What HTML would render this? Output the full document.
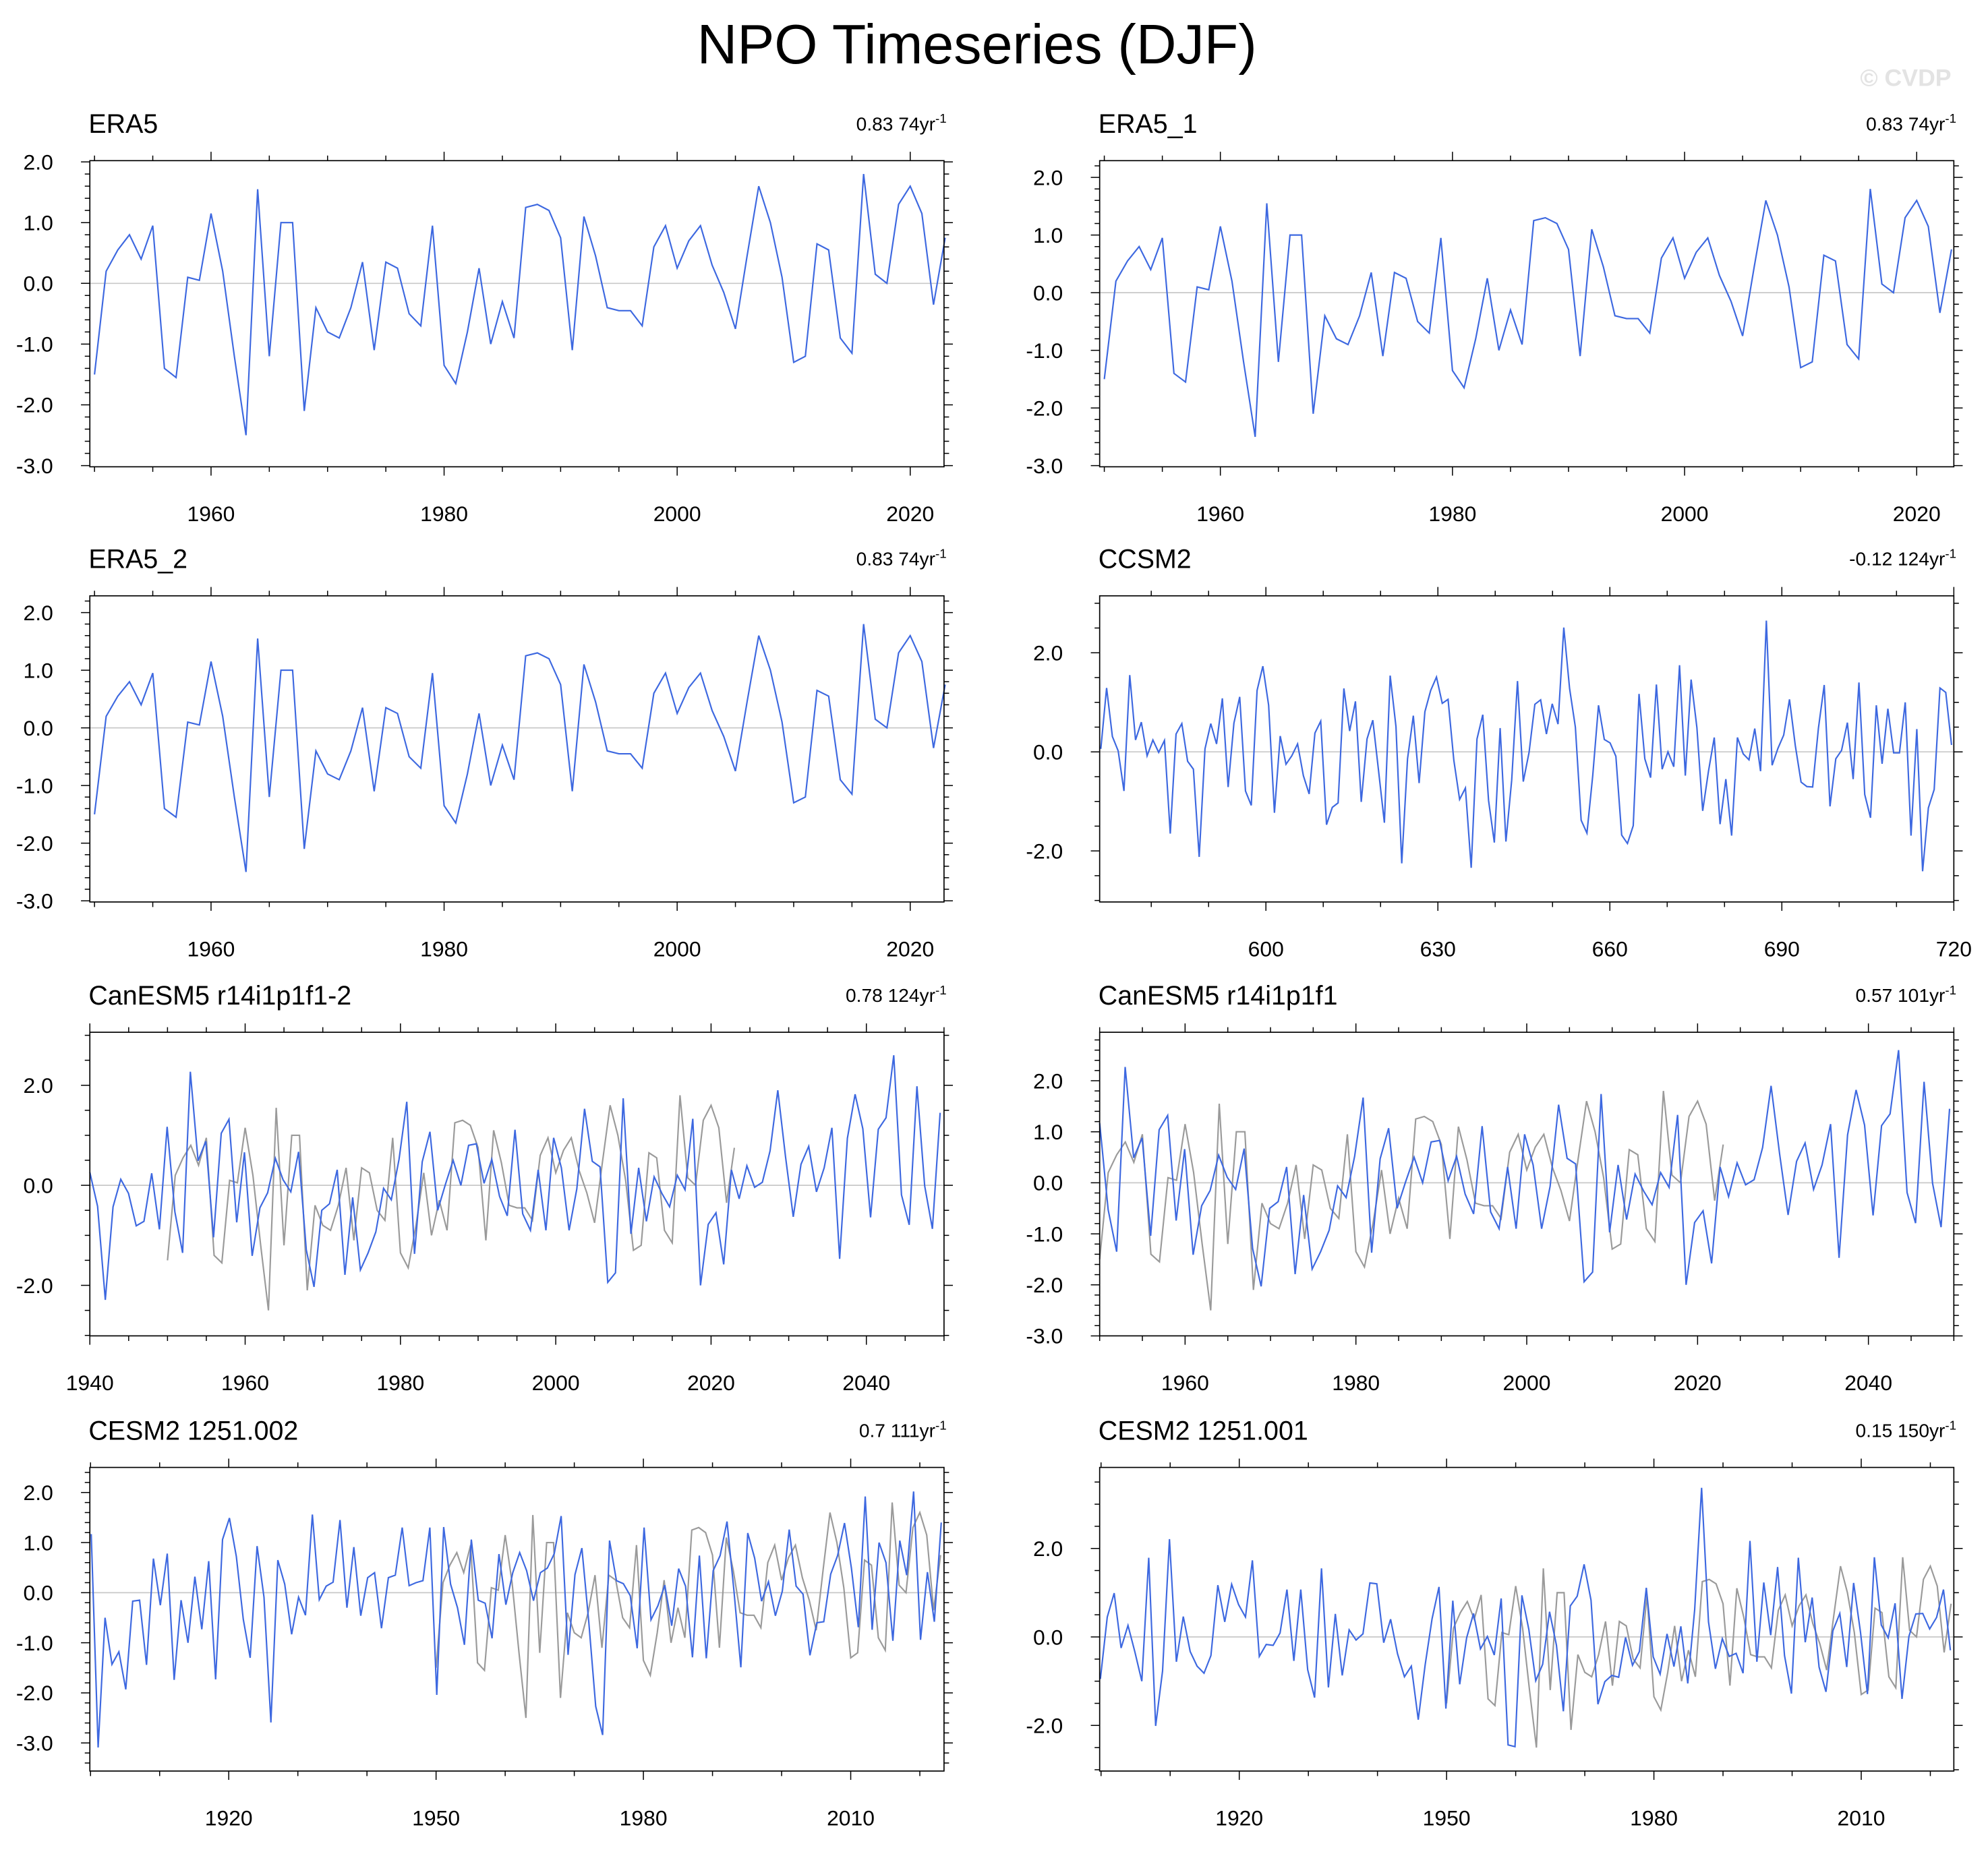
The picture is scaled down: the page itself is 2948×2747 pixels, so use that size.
<!DOCTYPE html>
<html><head><meta charset="utf-8"><title>NPO Timeseries (DJF)</title>
<style>
html,body{margin:0;padding:0;background:#fff;}
svg{display:block;}
text{font-family:"Liberation Sans",Arial,sans-serif;}
</style></head>
<body>
<svg id="chart" xmlns="http://www.w3.org/2000/svg" width="2948" height="2747" viewBox="0 0 1571 1464" preserveAspectRatio="none">
<rect x="0" y="0" width="1571" height="1464" fill="#fff"/>
<text x="772" y="50" font-size="44" text-anchor="middle" fill="#000">NPO Timeseries (DJF)</text>
<text x="1542" y="68" font-size="19" text-anchor="end" fill="#e3e3e3" font-weight="bold">© CVDP</text>
</svg>
<script>
// ---- data arrays ----
const era5Values = [-1.5,0.2,0.55,0.8,0.4,0.95,-1.4,-1.55,0.1,0.05,1.15,0.2,-1.2,-2.5,1.55,-1.2,1.0,1.0,-2.1,-0.4,-0.8,-0.9,-0.4,0.35,-1.1,0.35,0.25,-0.5,-0.7,0.95,-1.35,-1.65,-0.8,0.25,-1.0,-0.3,-0.9,1.25,1.3,1.2,0.75,-1.1,1.1,0.45,-0.4,-0.45,-0.45,-0.7,0.6,0.95,0.25,0.7,0.95,0.3,-0.15,-0.75,0.45,1.6,1.0,0.1,-1.3,-1.2,0.65,0.55,-0.9,-1.15,1.8,0.15,0.0,1.3,1.6,1.15,-0.35,0.75];
const era5Years = [1950, 2023];

const ccsm2Values = [0.06,1.29,0.31,0.02,-0.79,1.55,0.24,0.6,-0.08,0.24,-0.01,0.23,-1.65,0.36,0.57,-0.19,-0.35,-2.12,0.06,0.57,0.16,1.08,-0.71,0.58,1.11,-0.79,-1.08,1.24,1.73,0.94,-1.23,0.32,-0.25,-0.08,0.16,-0.48,-0.85,0.38,0.62,-1.47,-1.12,-1.03,1.28,0.42,1.02,-1.01,0.26,0.64,-0.39,-1.43,1.54,0.51,-2.25,-0.14,0.73,-0.63,0.81,1.24,1.51,0.98,1.06,-0.17,-0.96,-0.73,-2.34,0.26,0.75,-0.98,-1.83,0.48,-1.81,-0.57,1.43,-0.6,-0.01,0.96,1.05,0.36,0.97,0.56,2.51,1.28,0.5,-1.38,-1.64,-0.48,0.94,0.25,0.18,-0.09,-1.68,-1.85,-1.49,1.17,-0.14,-0.52,1.36,-0.35,0.0,-0.3,1.75,-0.48,1.46,0.49,-1.19,-0.39,0.29,-1.46,-0.55,-1.69,0.29,-0.04,-0.16,0.47,-0.39,2.65,-0.27,0.07,0.34,1.06,0.13,-0.61,-0.7,-0.71,0.48,1.35,-1.1,-0.14,0.03,0.59,-0.55,1.4,-0.86,-1.33,0.94,-0.24,0.87,-0.02,-0.02,1.0,-1.69,0.46,-2.41,-1.13,-0.76,1.29,1.2,0.14];
const ccsm2Years = [571.2, 719.6];

const canesmValues = [0.26,-0.42,-2.29,-0.43,0.12,-0.16,-0.81,-0.72,0.24,-0.88,1.17,-0.53,-1.35,2.27,0.49,0.88,-1.04,1.04,1.32,-0.74,0.66,-1.41,-0.45,-0.15,0.54,0.11,-0.13,0.67,-1.29,-2.03,-0.5,-0.37,0.31,-1.79,-0.24,-1.69,-1.35,-0.93,-0.06,-0.29,0.52,1.67,-1.37,0.47,1.07,-0.5,0.02,0.5,0.0,0.8,0.83,0.04,0.52,-0.22,-0.61,1.11,-0.57,-0.9,0.31,-0.9,0.95,0.35,-0.9,-0.07,1.53,0.48,0.37,-1.94,-1.75,1.74,-0.97,0.35,-0.72,0.17,-0.16,-0.43,0.2,-0.09,1.33,-2.0,-0.78,-0.55,-1.58,0.31,-0.27,0.39,-0.04,0.06,0.69,1.9,0.57,-0.63,0.42,0.78,-0.13,0.35,1.15,-1.47,0.94,1.82,1.13,-0.64,1.12,1.35,2.6,-0.19,-0.79,1.98,-0.01,-0.87,1.45];
const canesmYears = [1940, 2049.5];

const cesm002Values = [1.17,-3.09,-0.5,-1.43,-1.18,-1.93,-0.17,-0.15,-1.44,0.68,-0.25,0.78,-1.74,-0.15,-1.0,0.32,-0.73,0.63,-1.73,1.06,1.49,0.72,-0.53,-1.3,0.93,-0.09,-2.59,0.65,0.17,-0.83,-0.09,-0.45,1.56,-0.14,0.13,0.21,1.45,-0.3,0.91,-0.46,0.3,0.4,-0.71,0.3,0.35,1.3,0.14,0.2,0.24,1.3,-2.04,1.31,0.17,-0.3,-1.04,1.06,-0.15,-0.21,-0.91,0.77,-0.24,0.4,0.8,0.44,-0.16,0.4,0.49,0.78,1.53,-1.24,0.36,0.89,-0.59,-2.27,-2.84,1.04,0.24,0.18,-0.06,-1.11,1.3,-0.54,-0.26,0.15,-0.66,0.48,0.13,-1.29,0.74,-1.31,0.44,0.74,1.42,0.04,-1.49,1.19,0.69,-0.17,0.22,-0.46,0.03,1.26,0.13,-0.03,-1.25,-0.6,-0.58,0.37,0.74,1.39,0.49,-0.69,1.92,-0.74,1.0,0.6,-0.96,1.04,0.35,2.02,-0.94,0.41,-0.58,1.4];
const cesm002Years = [1900.1, 2023.1];

const cesm001Values = [-0.95,0.45,0.99,-0.25,0.26,-0.34,-1.0,1.79,-2.01,-0.77,2.21,-0.56,0.46,-0.33,-0.66,-0.82,-0.42,1.17,0.34,1.19,0.73,0.45,1.73,-0.44,-0.17,-0.19,0.09,1.07,-0.54,1.07,-0.74,-1.37,1.55,-1.14,0.52,-0.87,0.16,-0.07,0.07,1.22,1.2,-0.13,0.4,-0.38,-0.9,-0.66,-1.87,-0.63,0.41,1.13,-1.62,0.82,-1.07,-0.02,0.53,-0.27,0.01,-0.41,0.87,-2.44,-2.48,0.94,0.17,-0.99,-0.62,0.57,-0.19,-1.68,0.7,0.92,1.64,0.83,-1.52,-1.01,-0.87,-0.91,-0.01,-0.64,-0.33,1.11,-0.45,-0.84,0.07,-0.67,0.24,-1.05,0.62,3.37,0.34,-0.72,-0.04,-0.44,-0.37,-0.82,2.17,-0.56,1.23,0.04,1.58,-0.42,-1.28,1.79,-0.12,0.89,-0.68,-1.24,0.14,0.53,-0.68,1.22,0.1,-1.29,1.8,0.27,-0.02,0.76,-1.4,0.01,0.52,0.53,0.18,0.44,1.07,-0.3];
const cesm001Years = [1899.9, 2022.9];

const panelTitles = ["ERA5","ERA5_1","ERA5_2","CCSM2","CanESM5 r14i1p1f1-2","CanESM5 r14i1p1f1","CESM2 1251.002","CESM2 1251.001"];
const panelStats = ["0.83 74yr","0.83 74yr","0.83 74yr","-0.12 124yr","0.78 124yr","0.57 101yr","0.7 111yr","0.15 150yr"];

// ---- layout ----
const svg = document.getElementById('chart');
const NS = 'http://www.w3.org/2000/svg';
const L = [71, 746], R = [869, 1544];
const ROWS = [[127, 369], [471, 713], [816, 1056], [1160, 1400]];
const BLUE = '#3d68e0', GREY = '#9a9a9a';

function mk(tag, attrs, parent) {
  const e = document.createElementNS(NS, tag);
  for (const k in attrs) e.setAttribute(k, attrs[k]);
  (parent || svg).appendChild(e);
  return e;
}

const panels = [
  {col:L,row:0,xd:[1949.6,2022.9],yd:[-3.02,2.02],xMaj:20,xMin:5,xLab:[1960,1980,2000,2020],yLab:1,yMin:0.2,series:[{v:era5Values,y:era5Years,c:BLUE,n:'era5'}]},
  {col:R,row:0,xd:[1949.6,2023.2],yd:[-3.02,2.29],xMaj:20,xMin:5,xLab:[1960,1980,2000,2020],yLab:1,yMin:0.2,series:[{v:era5Values,y:era5Years,c:BLUE,n:'era5-1'}]},
  {col:L,row:1,xd:[1949.6,2022.9],yd:[-3.02,2.29],xMaj:20,xMin:5,xLab:[1960,1980,2000,2020],yLab:1,yMin:0.2,series:[{v:era5Values,y:era5Years,c:BLUE,n:'era5-2'}]},
  {col:R,row:1,xd:[571,720],yd:[-3.03,3.15],xMaj:30,xMin:10,xLab:[600,630,660,690,720],yLab:2,yMin:0.5,series:[{v:ccsm2Values,y:ccsm2Years,c:BLUE,n:'ccsm2'}]},
  {col:L,row:2,xd:[1940,2050],yd:[-3.01,3.06],xMaj:20,xMin:5,xLab:[1940,1960,1980,2000,2020,2040],yLab:2,yMin:0.5,series:[{v:era5Values,y:era5Years,c:GREY,n:'era5-obs'},{v:canesmValues,y:canesmYears,c:BLUE,n:'canesm5-2'}]},
  {col:R,row:2,xd:[1950,2050],yd:[-3.0,2.95],xMaj:20,xMin:5,xLab:[1960,1980,2000,2020,2040],yLab:1,yMin:0.2,series:[{v:era5Values,y:era5Years,c:GREY,n:'era5-obs'},{v:canesmValues.slice(10),y:[1950,2049.5],c:BLUE,n:'canesm5'}]},
  {col:L,row:3,xd:[1899.9,2023.5],yd:[-3.56,2.5],xMaj:30,xMin:10,xLab:[1920,1950,1980,2010],yLab:1,yMin:0.2,series:[{v:era5Values,y:era5Years,c:GREY,n:'era5-obs'},{v:cesm002Values,y:cesm002Years,c:BLUE,n:'cesm2-002'}]},
  {col:R,row:3,xd:[1899.8,2023.4],yd:[-3.03,3.83],xMaj:30,xMin:10,xLab:[1920,1950,1980,2010],yLab:2,yMin:0.5,series:[{v:era5Values,y:era5Years,c:GREY,n:'era5-obs'},{v:cesm001Values,y:cesm001Years,c:BLUE,n:'cesm2-001'}]}
];

panels.forEach((p, i) => {
  const x0 = p.col[0], x1 = p.col[1], y0 = ROWS[p.row][0], y1 = ROWS[p.row][1];
  const sx = v => x0 + (v - p.xd[0]) / (p.xd[1] - p.xd[0]) * (x1 - x0);
  const sy = v => y1 - (v - p.yd[0]) / (p.yd[1] - p.yd[0]) * (y1 - y0);
  const g = mk('g', {});
  
  

  const zl = mk('line', {x1:x0, x2:x1, y1:sy(0), y2:sy(0), stroke:'#c8c8c8', 'stroke-width':0.9}, g);
  
  

  p.series.forEach(s => {
    const n = s.v.length;
    const pts = s.v.map((v, k) => {
      const yr = s.y[0] + (n > 1 ? k * (s.y[1] - s.y[0]) / (n - 1) : 0);
      return sx(yr).toFixed(2) + ',' + sy(v).toFixed(2);
    }).join(' ');
    const pl = mk('polyline', {points:pts, fill:'none', stroke:s.c, 'stroke-width':1.15, 'stroke-linejoin':'miter'}, g);
    
    
  });

  const fr = mk('rect', {x:x0, y:y0, width:x1 - x0, height:y1 - y0, fill:'none', stroke:'#000', 'stroke-width':0.9}, g);
  
  

  let d = '';
  const eps = 1e-6;
  for (let t = Math.ceil(p.xd[0] / p.xMin) * p.xMin; t <= p.xd[1] + eps; t += p.xMin) {
    const X = sx(t), maj = Math.abs(t / p.xMaj - Math.round(t / p.xMaj)) < eps;
    const len = maj ? 7 : 4;
    d += `M${X},${y1}v${len}M${X},${y0}v${-len}`;
  }
  for (let t = Math.ceil(p.yd[0] / p.yMin - eps) * p.yMin; t <= p.yd[1] + eps; t += p.yMin) {
    const Y = sy(t), maj = Math.abs(t / p.yLab - Math.round(t / p.yLab)) < 1e-4;
    const len = maj ? 7 : 4;
    d += `M${x0},${Y}h${-len}M${x1},${Y}h${len}`;
  }
  const tk = mk('path', {d:d, stroke:'#000', 'stroke-width':0.8, fill:'none'}, g);
  
  

  p.xLab.forEach(t => {
    const tx = mk('text', {x:sx(t), y:y1 + 43, 'font-size':17, 'text-anchor':'middle', fill:'#000'}, g);
    tx.textContent = String(t);
    
    
  });
  for (let t = Math.ceil(p.yd[0] / p.yLab - eps) * p.yLab; t <= p.yd[1] + eps; t += p.yLab) {
    const ty = mk('text', {x:x0 - 29, y:sy(t) + 6, 'font-size':17, 'text-anchor':'end', fill:'#000'}, g);
    ty.textContent = (Math.abs(t) < 1e-6 ? 0 : t).toFixed(1);
    
    
  }

  const tt = mk('text', {x:x0 - 1, y:y0 - 22, 'font-size':21, fill:'#000'}, g);
  tt.textContent = panelTitles[i];
  
  

  const st = mk('text', {x:x1 + 2, y:y0 - 24, 'font-size':15, 'text-anchor':'end', fill:'#000'}, g);
  
  
  const s1 = mk('tspan', {}, st);
  s1.textContent = panelStats[i];
  const s2 = mk('tspan', {dy:-6, 'font-size':10}, st);
  s2.textContent = '-1';
});
</script>
</body></html>
